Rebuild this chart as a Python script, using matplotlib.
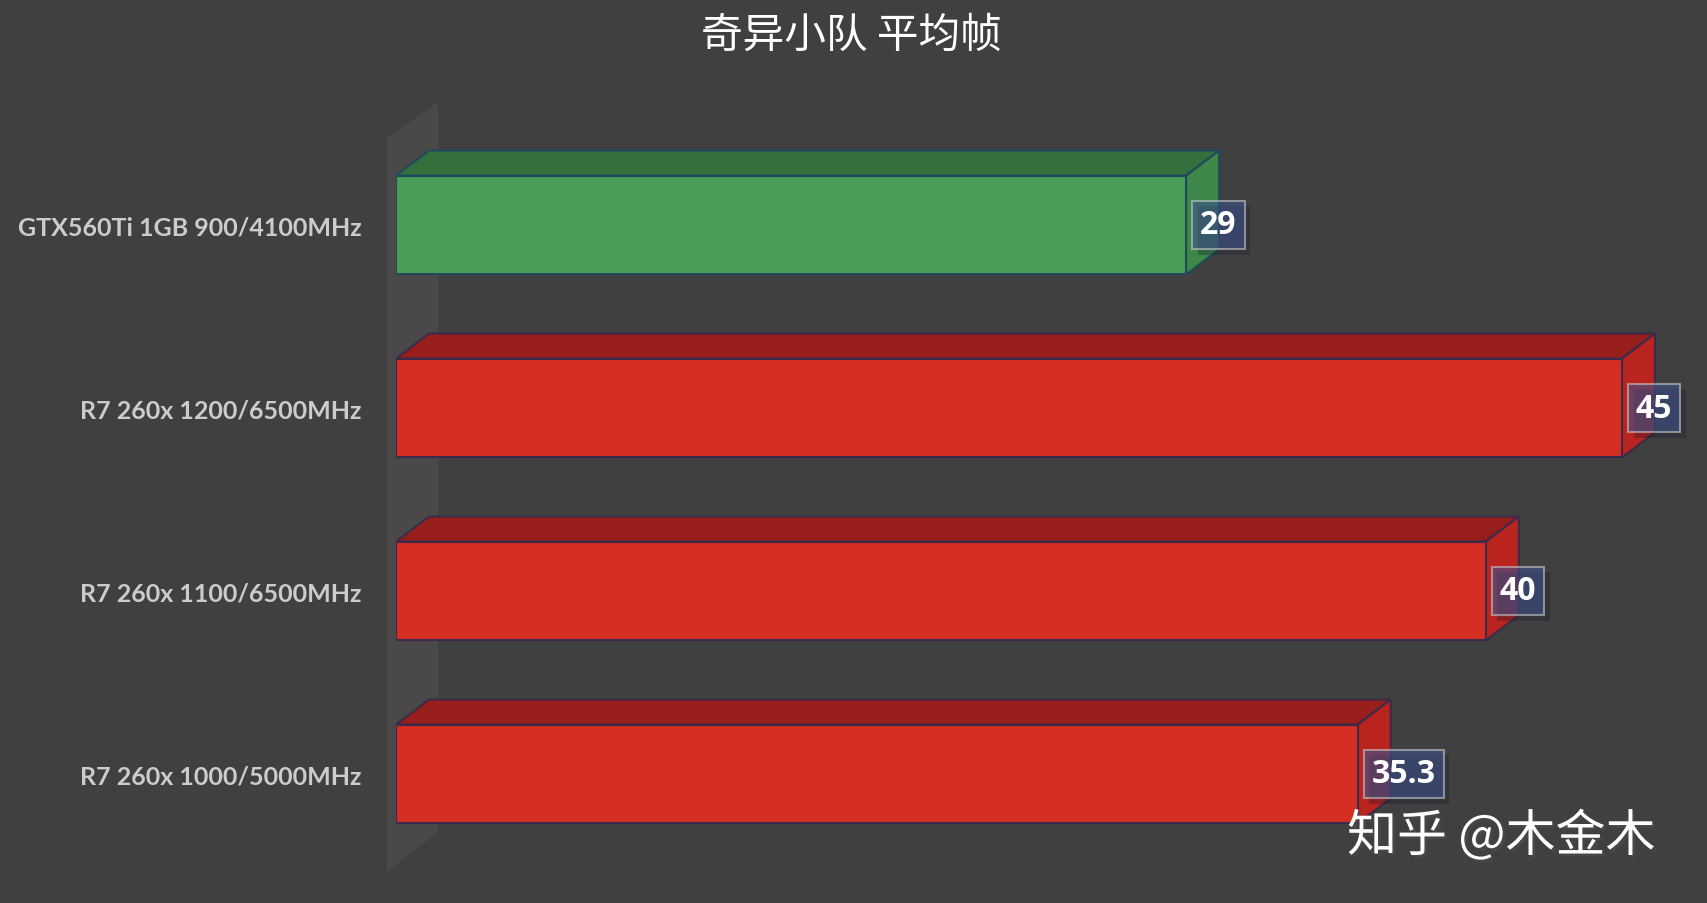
import matplotlib
matplotlib.use('Agg')
import matplotlib.pyplot as plt
import matplotlib.patheffects as pe
from matplotlib.patches import Polygon

plt.rcParams['font.family'] = ['Lato', 'Noto Sans CJK SC', 'DejaVu Sans']

# data
title = '奇异小队 平均帧'
categories = ['GTX560Ti 1GB 900/4100MHz', 'R7 260x 1200/6500MHz',
              'R7 260x 1100/6500MHz', 'R7 260x 1000/5000MHz']
values = [29, 45, 40, 35.3]
value_labels = ['29', '45', '40', '35.3']
watermark = '知乎 @木金木'

# colours: (front, top, side, edge)
green = ('#4a9e58', '#33703e', '#3d8749', '#1f4a5c')
red = ('#d52e23', '#971e1b', '#b9241f', '#3b2a4a')
styles = [green, red, red, red]

bg = '#404040'
W, H = 1708, 904
fig = plt.figure(figsize=(W / 100, H / 100), dpi=100, facecolor=bg)

# axes: x=0 at 396px, 27.24 px per unit; rows 183px apart, first centred at 226px
x0_px = 396
px_unit = 1226 / 45
row_px = 183
ax = fig.add_axes([x0_px / W, 0, 1 - x0_px / W, 1])
ax.set_facecolor(bg)
ax.set_xlim(0, (W - x0_px) / px_unit)
ax.set_ylim((H - 226) / row_px, -226 / row_px)
for s in ax.spines.values():
    s.set_visible(False)
ax.set_xticks([])

bar_h = 0.54
dx = 33 / px_unit      # depth offsets
dy = 25 / row_px

# back wall
wall = Polygon([(-9 / px_unit, -87 / row_px), (42 / px_unit, -123 / row_px),
                (42 / px_unit, 607 / row_px), (-9 / px_unit, 647 / row_px)],
               closed=True, facecolor='#4a4848', edgecolor='none',
               clip_on=False, zorder=1)
ax.add_patch(wall)

ys = list(range(len(values)))
for y, v, st in zip(ys, values, styles):
    front, top, side, edge = st
    t = y - bar_h / 2
    b = y + bar_h / 2
    ax.add_patch(Polygon([(0, t), (v, t), (v + dx, t - dy), (dx, t - dy)],
                         closed=True, facecolor=top, edgecolor=edge,
                         lw=1.5, zorder=2))
    ax.add_patch(Polygon([(v, t), (v + dx, t - dy), (v + dx, b - dy), (v, b)],
                         closed=True, facecolor=side, edgecolor=edge,
                         lw=1.5, zorder=2))
    ax.barh(y, v, height=bar_h, left=0, color=front, edgecolor=edge,
            lw=1.5, zorder=3)

for y, v, lab in zip(ys, values, value_labels):
    txt = ax.text(v + 14 / px_unit, y, lab, ha='left', va='center',
                  fontsize=23, fontweight='bold', color='white', zorder=5,
                  family=['Open Sans', 'DejaVu Sans'],
                  bbox=dict(boxstyle='square,pad=0.25', facecolor='#3d5289',
                            alpha=0.6, edgecolor='#c8c8c8', lw=1.5))
    txt.get_bbox_patch().set_path_effects(
        [pe.SimplePatchShadow(offset=(4, -4), alpha=0.3), pe.Normal()])

ax.set_yticks(ys)
ax.set_yticklabels(categories, fontsize=18, fontweight='bold', color='#cccccc')
ax.tick_params(axis='y', length=0, pad=25)

fig.text(851 / W, 1 - 36 / H, title, ha='center', va='center', fontsize=30,
         color='white', family=['Noto Sans CJK SC', 'DejaVu Sans'])

fig.text(1347 / W, 1 - 838 / H, watermark, ha='left', va='center',
         fontsize=36, color='white', family=['Noto Sans CJK SC', 'DejaVu Sans'],
         path_effects=[pe.withSimplePatchShadow(offset=(2, -2), alpha=0.6)])

fig.savefig('out.png', dpi=100, facecolor=bg)
